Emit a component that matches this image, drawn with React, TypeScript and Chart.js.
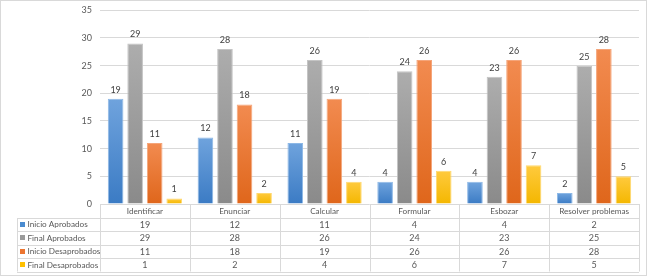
import React, { useEffect, useRef } from "react";
import { Chart, registerables } from "chart.js";

Chart.register(...registerables);

const categories = ["Identificar", "Enunciar", "Calcular", "Formular", "Esbozar", "Resolver problemas"];
const seriesNames = ["Inicio Aprobados", "Final Aprobados", "Inicio Desaprobados", "Final Desaprobados"];
const inicioAprobados = [19, 12, 11, 4, 4, 2];
const finalAprobados = [29, 28, 26, 24, 23, 25];
const inicioDesaprobados = [11, 18, 19, 26, 26, 28];
const finalDesaprobados = [1, 2, 4, 6, 7, 5];
const yTicks = [0, 5, 10, 15, 20, 25, 30, 35];

const seriesValues = [inicioAprobados, finalAprobados, inicioDesaprobados, finalDesaprobados];
const gradTop = ["#6fa3dd", "#adadad", "#f28b50", "#ffca3e"];
const gradBottom = ["#3b7bc4", "#8a8a8a", "#df661b", "#f4b700"];
const borders = ["#8db8e6", "#c4c4c4", "#f5a57a", "#ffd86e"];
const swatch = ["#4a8bd0", "#9a9a9a", "#ec7530", "#ffc000"];

const FONT = "Lato, 'Open Sans', sans-serif";
const TEXT = "#595959";
const LINE = "#d9d9d9";
const NUM_SIZE = 9;

function wordFontSize(): number {
  const c = document.createElement("canvas");
  const ctx = c.getContext("2d");
  if (!ctx) return 8.2;
  ctx.font = "10px " + FONT;
  const w = ctx.measureText("Resolver problemas").width;
  if (!w) return 8.2;
  return Math.max(7, Math.min(10, (10 * 70) / w));
}

export default function App() {
  const ref = useRef<HTMLCanvasElement | null>(null);
  useEffect(() => {
    const canvas = ref.current;
    if (!canvas) return;
    const WORD_SIZE = wordFontSize();

    const tablePlugin = {
      id: "tablePlugin",
      afterDraw(chart: any) {
        const ctx = chart.ctx;
        const x = chart.scales.x;
        const y = chart.scales.y;
        const left = chart.chartArea.left;
        const right = chart.chartArea.right;
        const n = categories.length;
        const colW = (right - left) / n;
        const top = y.getPixelForValue(0);
        const rowH = 13.5;
        const tableLeft = 17;
        const rows = seriesNames.length;
        const bottom = top + rowH * (rows + 1);
        ctx.save();
        ctx.strokeStyle = LINE;
        ctx.lineWidth = 1;
        for (let r = 1; r <= rows + 1; r++) {
          const yy = Math.round(top + rowH * r) + 0.5;
          ctx.beginPath();
          ctx.moveTo(tableLeft, yy);
          ctx.lineTo(right, yy);
          ctx.stroke();
        }
        for (let c = 0; c <= n; c++) {
          const xx = Math.round(left + colW * c) + 0.5;
          ctx.beginPath();
          ctx.moveTo(xx, top);
          ctx.lineTo(xx, bottom);
          ctx.stroke();
        }
        ctx.beginPath();
        ctx.moveTo(tableLeft + 0.5, Math.round(top + rowH) + 0.5);
        ctx.lineTo(tableLeft + 0.5, bottom);
        ctx.stroke();
        ctx.strokeStyle = "#d9d9d9";
        ctx.strokeRect(0.5, 0.5, 646, 275);
        ctx.fillStyle = TEXT;
        ctx.textBaseline = "middle";
        for (let r = 0; r < rows; r++) {
          const cy = top + rowH * (r + 1) + rowH / 2 + 0.5;
          ctx.fillStyle = swatch[r];
          ctx.fillRect(20, Math.round(cy - 3), 5, 5);
          ctx.fillStyle = TEXT;
          ctx.textAlign = "left";
          ctx.font = WORD_SIZE + "px " + FONT;
          ctx.fillText(seriesNames[r], 27.5, cy);
          ctx.textAlign = "center";
          ctx.font = NUM_SIZE + "px " + FONT;
          for (let c = 0; c < n; c++) {
            ctx.fillText(String(seriesValues[r][c]), x.getPixelForValue(c), cy);
          }
        }
        ctx.restore();
      },
      afterDatasetsDraw(chart: any) {
        const ctx = chart.ctx;
        ctx.save();
        ctx.font = NUM_SIZE + "px " + FONT;
        ctx.fillStyle = "#404040";
        ctx.textAlign = "center";
        ctx.textBaseline = "middle";
        chart.data.datasets.forEach((ds: any, i: number) => {
          const meta = chart.getDatasetMeta(i);
          meta.data.forEach((el: any, j: number) => {
            ctx.fillText(String(ds.data[j]), el.x, el.y - 9);
          });
        });
        ctx.restore();
      },
    };

    const makeBg = (i: number) => (c: any) => {
      const chart = c.chart;
      if (!chart.chartArea || c.parsed == null) return gradBottom[i];
      const ys = chart.scales.y;
      const t = ys.getPixelForValue(c.parsed.y);
      const b = ys.getPixelForValue(0);
      if (!isFinite(t) || !isFinite(b) || b - t < 1) return gradTop[i];
      const g = chart.ctx.createLinearGradient(0, t, 0, b);
      g.addColorStop(0, gradTop[i]);
      g.addColorStop(1, gradBottom[i]);
      return g;
    };

    const chart = new Chart(canvas, {
      type: "bar",
      data: {
        labels: categories,
        datasets: seriesNames.map((name, i) => ({
          label: name,
          data: seriesValues[i],
          backgroundColor: makeBg(i),
          borderColor: borders[i],
          borderWidth: 1,
          categoryPercentage: 0.87,
          barPercentage: 0.8,
        })),
      },
      options: {
        responsive: false,
        animation: false,
        layout: { padding: { left: 0, right: 11, top: 10.3, bottom: 0 } },
        plugins: { legend: { display: false }, tooltip: { enabled: false } },
        scales: {
          x: {
            grid: { display: false, drawTicks: false },
            border: { display: false },
            ticks: { color: TEXT, font: { family: FONT, size: WORD_SIZE }, padding: 2.5, maxRotation: 0, autoSkip: false },
            afterFit: (s: any) => {
              s.height = 74;
            },
          },
          y: {
            min: 0,
            max: 35,
            afterBuildTicks: (s: any) => {
              s.ticks = yTicks.map((v) => ({ value: v }));
            },
            grid: { color: LINE, drawTicks: true, tickLength: 6, tickColor: "rgba(0,0,0,0)" },
            border: { display: false },
            ticks: { color: TEXT, font: { family: FONT, size: NUM_SIZE }, padding: 2 },
            afterFit: (s: any) => {
              s.width = 100;
            },
          },
        },
      },
      plugins: [tablePlugin],
    });
    return () => chart.destroy();
  }, []);

  return (
    <div style={{ position: "fixed", left: 0, top: 0, width: 650, height: 278, background: "#fff" }}>
      <canvas ref={ref} width={650} height={278} style={{ width: 650, height: 278, display: "block" }} />
    </div>
  );
}
